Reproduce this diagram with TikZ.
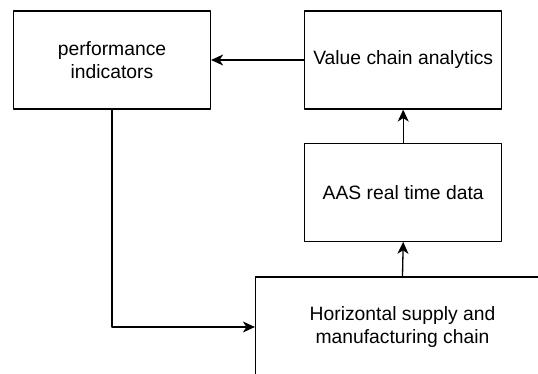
\documentclass[tikz,border=0pt]{standalone}
\usepackage{fontspec}
\setmainfont{Liberation Sans}
\usetikzlibrary{positioning,arrows.meta}
\begin{document}
\begin{tikzpicture}[x=1pt, y=-1pt, line join=round, >={Stealth[length=12pt, width=11pt, inset=3.5pt]}, font=\fontsize{19.3}{22.5}\selectfont]
	\tikzset{blok/.style={draw, line width=1.2pt, minimum width=197pt, minimum height=98pt, inner sep=0pt, align=center},
		pijl/.style={->, line width=1.3pt}}
	\useasboundingbox (0,0) rectangle (538,373);
	\clip (0,0) rectangle (538,373);
	\node[blok] (perf) at (112,60) {performance\\indicators};
	\node[blok, right=93pt of perf] (vca) {Value chain analytics};
	\node[blok, below=33pt of vca] (aas) {AAS real time data};
	\node[blok, minimum width=294pt, minimum height=100pt] (hor) at (402.5,327) {Horizontal supply and\\manufacturing chain};
	
	\draw[pijl] (vca) -- (perf);
	\draw[pijl] (aas) -- (vca);
	\draw[pijl] (hor.north) -- (aas.south);
	\draw[pijl] (perf.south) |- (hor.west);
\end{tikzpicture}
\end{document}
